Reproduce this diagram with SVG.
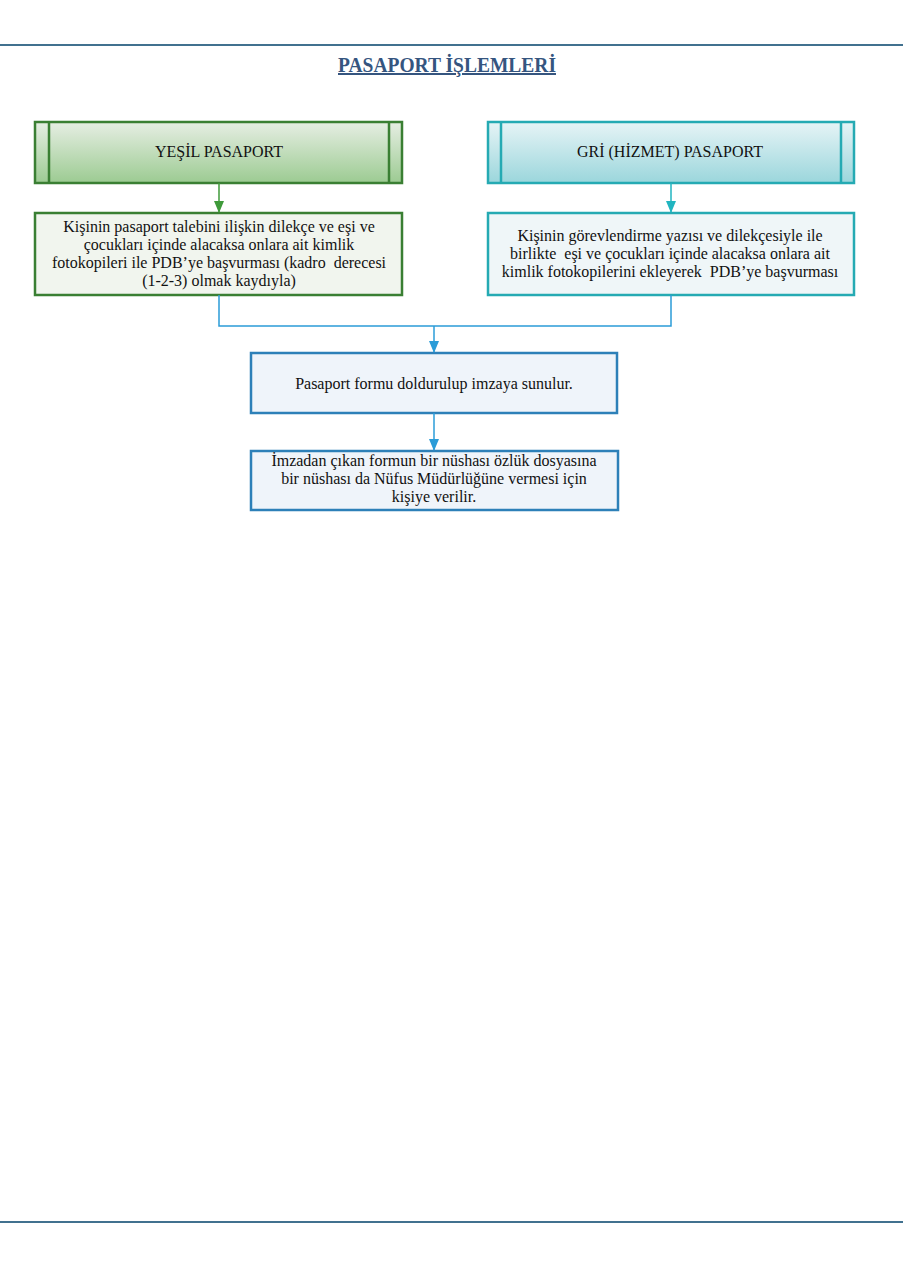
<svg xmlns="http://www.w3.org/2000/svg" width="905" height="1280" viewBox="0 0 905 1280">
<defs>
<linearGradient id="gGreen" x1="0" y1="0" x2="0" y2="1"><stop offset="0" stop-color="#e6eee3"/><stop offset="1" stop-color="#9ccb92"/></linearGradient>
<linearGradient id="gTeal" x1="0" y1="0" x2="0" y2="1"><stop offset="0" stop-color="#e6f4f6"/><stop offset="1" stop-color="#9bd6dc"/></linearGradient>
<marker id="aG" markerWidth="12" markerHeight="10" refX="11" refY="5" orient="auto" markerUnits="userSpaceOnUse"><path d="M0,0 L12,5 L0,10 Z" fill="#3f9a3a"/></marker>
<marker id="aT" markerWidth="12" markerHeight="10" refX="11" refY="5" orient="auto" markerUnits="userSpaceOnUse"><path d="M0,0 L12,5 L0,10 Z" fill="#21b5c0"/></marker>
<marker id="aB" markerWidth="12" markerHeight="10" refX="11" refY="5" orient="auto" markerUnits="userSpaceOnUse"><path d="M0,0 L12,5 L0,10 Z" fill="#2b9cd8"/></marker>
</defs>
<style>
text{font-family:"Liberation Serif","Times New Roman",serif;font-size:16px;fill:#111;text-anchor:middle;white-space:pre}
.title{font-family:"Liberation Serif",serif;font-weight:bold;font-size:20px;fill:#35557f;text-decoration:underline}
.gs{stroke:#3a7f33;stroke-width:2.5}
.ts{stroke:#25aab3;stroke-width:2.5}
.bs{stroke:#2d80b8;stroke-width:2.5;fill:#eff4fa}
.conn{fill:none;stroke-width:1.5}
</style>
<line x1="0" y1="45" x2="903" y2="45" stroke="#41718f" stroke-width="2"/>
<line x1="0" y1="1222" x2="903" y2="1222" stroke="#41718f" stroke-width="2"/>
<g id="title"><text class="title" x="447" y="72" textLength="218" lengthAdjust="spacingAndGlyphs">PASAPORT İŞLEMLERİ</text></g>
<g id="yesil">
<rect class="gs" x="35" y="122" width="367" height="61" fill="url(#gGreen)"/>
<line class="gs" x1="49" y1="122" x2="49" y2="183"/><line class="gs" x1="389" y1="122" x2="389" y2="183"/>
<text x="219" y="157">YEŞİL PASAPORT</text>
</g>
<g id="gri">
<rect class="ts" x="488" y="122" width="366" height="61" fill="url(#gTeal)"/>
<line class="ts" x1="501" y1="122" x2="501" y2="183"/><line class="ts" x1="841" y1="122" x2="841" y2="183"/>
<text x="670" y="157">GRİ (HİZMET) PASAPORT</text>
</g>
<g id="yesil-basvuru">
<rect class="gs" x="35" y="213" width="367" height="82" fill="#f1f5ee"/>
<text x="219" y="232">Kişinin pasaport talebini ilişkin dilekçe ve eşi ve</text>
<text x="219" y="250">çocukları içinde alacaksa onlara ait kimlik</text>
<text x="219" y="268">fotokopileri ile PDB’ye başvurması (kadro  derecesi</text>
<text x="219" y="286">(1-2-3) olmak kaydıyla)</text>
</g>
<g id="gri-basvuru">
<rect class="ts" x="488" y="213" width="366" height="82" fill="#eff6f8"/>
<text x="670" y="241">Kişinin görevlendirme yazısı ve dilekçesiyle ile</text>
<text x="670" y="259">birlikte  eşi ve çocukları içinde alacaksa onlara ait</text>
<text x="670" y="277">kimlik fotokopilerini ekleyerek  PDB’ye başvurması</text>
</g>
<g id="form">
<rect class="bs" x="251" y="353" width="366" height="60"/>
<text x="434" y="389">Pasaport formu doldurulup imzaya sunulur.</text>
</g>
<g id="imza">
<rect class="bs" x="251" y="451" width="367" height="59"/>
<text x="434" y="466">İmzadan çıkan formun bir nüshası özlük dosyasına</text>
<text x="434" y="484">bir nüshası da Nüfus Müdürlüğüne vermesi için</text>
<text x="434" y="502">kişiye verilir.</text>
</g>
<g id="connectors">
<line class="conn" x1="219" y1="183" x2="219" y2="212" stroke="#3f9a3a" marker-end="url(#aG)"/>
<line class="conn" x1="671" y1="183" x2="671" y2="212" stroke="#21b5c0" marker-end="url(#aT)"/>
<polyline class="conn" points="219,295 219,326 671,326 671,295" stroke="#2b9cd8"/>
<line class="conn" x1="434" y1="326" x2="434" y2="352" stroke="#2b9cd8" marker-end="url(#aB)"/>
<line class="conn" x1="434" y1="413" x2="434" y2="450" stroke="#2b9cd8" marker-end="url(#aB)"/>
</g>
</svg>
